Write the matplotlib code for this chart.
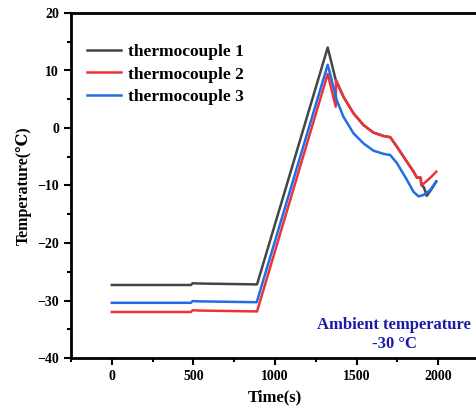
import matplotlib
matplotlib.use("Agg")
from matplotlib import pyplot as plt
from matplotlib.ticker import MultipleLocator

plt.rcParams['font.family'] = ['Liberation Serif', 'DejaVu Serif']
plt.rcParams['font.weight'] = 'bold'

# thermocouple readings
time_1 = [0, 485, 495, 540, 890, 1323, 1372, 1419, 1481, 1542, 1603, 1665, 1706,
          1747, 1808, 1849, 1869, 1893, 1896, 1912, 1930, 1960, 1988]
temp_1 = [-27.3, -27.3, -27.0, -27.05, -27.2, 14.0, 8.35, 5.45, 2.55, 0.52, -0.8, -1.39, -1.6,
          -3.25, -5.86, -7.6, -8.6, -8.7, -9.9, -10.3, -11.8, -10.6, -9.3]

time_2 = [0, 485, 495, 540, 890, 1323, 1372, 1374, 1419, 1481, 1542, 1603, 1665, 1706,
          1747, 1808, 1849, 1869, 1893, 1896, 1910, 1950, 1988]
temp_2 = [-32.0, -32.0, -31.7, -31.75, -31.9, 9.4, 3.7, 8.35, 5.45, 2.55, 0.52, -0.8, -1.39, -1.6,
          -3.25, -5.86, -7.6, -8.6, -8.6, -9.9, -9.7, -8.7, -7.6]

time_3 = [0, 485, 495, 540, 888, 1323, 1337, 1378, 1419, 1481, 1542, 1603, 1665, 1706,
          1747, 1808, 1849, 1880, 1910, 1951, 1988]
temp_3 = [-30.4, -30.4, -30.1, -30.15, -30.3, 11.0, 9.5, 4.87, 1.97, -0.93, -2.67, -3.94, -4.5, -4.7,
          -6.1, -9.0, -11.1, -11.9, -11.65, -10.8, -9.3]

labels = ["thermocouple 1", "thermocouple 2", "thermocouple 3"]
colors = ["#454545", "#ee3338", "#1f6ee6"]

fig = plt.figure(figsize=(4.77, 4.15), dpi=100)
ax = fig.add_axes([71 / 477, 57 / 415, 408 / 477, 345 / 415])

for t, v, lab, c in zip([time_1, time_2, time_3], [temp_1, temp_2, temp_3], labels, colors):
    ax.plot(t, v, color=c, lw=1.8, label=lab)

ax.set_xlim(-250, 2250)
ax.set_ylim(-40, 20)
ax.xaxis.set_major_locator(MultipleLocator(500))
ax.xaxis.set_minor_locator(MultipleLocator(250))
ax.yaxis.set_major_locator(MultipleLocator(10))
ax.yaxis.set_minor_locator(MultipleLocator(5))
ax.set_xticks([0, 500, 1000, 1500, 2000])
ax.tick_params(which='major', direction='out', length=5, width=1.5, labelsize=10)
ax.tick_params(which='minor', direction='out', length=3, width=1.5)
for s in ['left', 'bottom', 'top']:
    ax.spines[s].set_linewidth(2)
ax.spines['right'].set_visible(False)

ax.set_xlabel("Time(s)", fontsize=12, fontweight='bold', labelpad=5)
ax.set_ylabel("Temperature(\u2103)", fontsize=11.5, fontweight='bold', labelpad=4)

leg = ax.legend(loc='upper left', bbox_to_anchor=(0.0, 0.955), frameon=False,
                prop={'size': 12.5, 'weight': 'bold'}, handlelength=2.0,
                handletextpad=0.4, labelspacing=0.35)

ax.text(1730, -35.9, "Ambient temperature\n-30 \u00b0C", color="#1a1aa6",
        fontsize=12, fontweight='bold', ha='center', va='center', linespacing=1.2)

fig.savefig("out.png", dpi=100)
